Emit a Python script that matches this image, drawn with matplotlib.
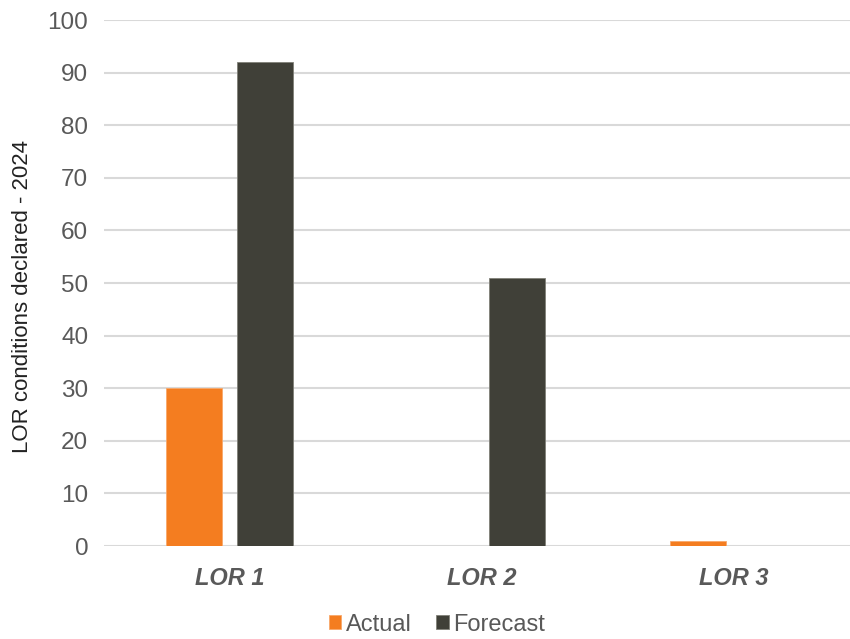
import matplotlib.pyplot as plt
import numpy as np

plt.rcParams['font.family'] = ['Liberation Sans', 'DejaVu Sans']

# data
categories = ["LOR 1", "LOR 2", "LOR 3"]
actual = [30, 0, 1]
forecast = [92, 51, 0]

ORANGE = "#F47D20"
DARK = "#404038"
GREY_TXT = "#595959"

fig = plt.figure(figsize=(8.5, 6.39), dpi=100)
ax = fig.add_axes([0.1218, 0.1455, 0.8782, 0.8232])

x = np.arange(len(categories))
w = 0.222
off = 0.142
ax.bar(x - off, actual, w, color=ORANGE, edgecolor="#F8A86A", linewidth=0.6, label="Actual", zorder=3)
ax.bar(x + off, forecast, w, color=DARK, edgecolor="#808078", linewidth=0.6, label="Forecast", zorder=3)

ax.set_ylim(0, 100)
ax.set_yticks(range(0, 101, 10))
ax.set_xlim(-0.5, -0.5 + (850 - 103.5) / 252)
ax.set_xticks(x)
ax.set_xticklabels(categories, fontsize=17, fontweight="bold", fontstyle="italic", color=GREY_TXT)
ax.tick_params(axis="x", length=0, pad=15)
ax.tick_params(axis="y", length=0, pad=11, labelsize=17.5, labelcolor=GREY_TXT)

ax.grid(axis="y", color="#D9D9D9", linewidth=1.5, zorder=0)
for s in ax.spines.values():
    s.set_visible(False)

ax.set_ylabel("LOR conditions declared - 2024", fontsize=16, color="#222222")
ax.yaxis.set_label_coords(-0.094, 0.475)

fig.legend(loc="lower center", bbox_to_anchor=(0.514, -0.028), ncol=2, frameon=False,
           fontsize=17, handlelength=0.55, handleheight=0.55, handletextpad=0.2,
           columnspacing=1.0, labelcolor=GREY_TXT)

fig.savefig("out.png", dpi=100)
